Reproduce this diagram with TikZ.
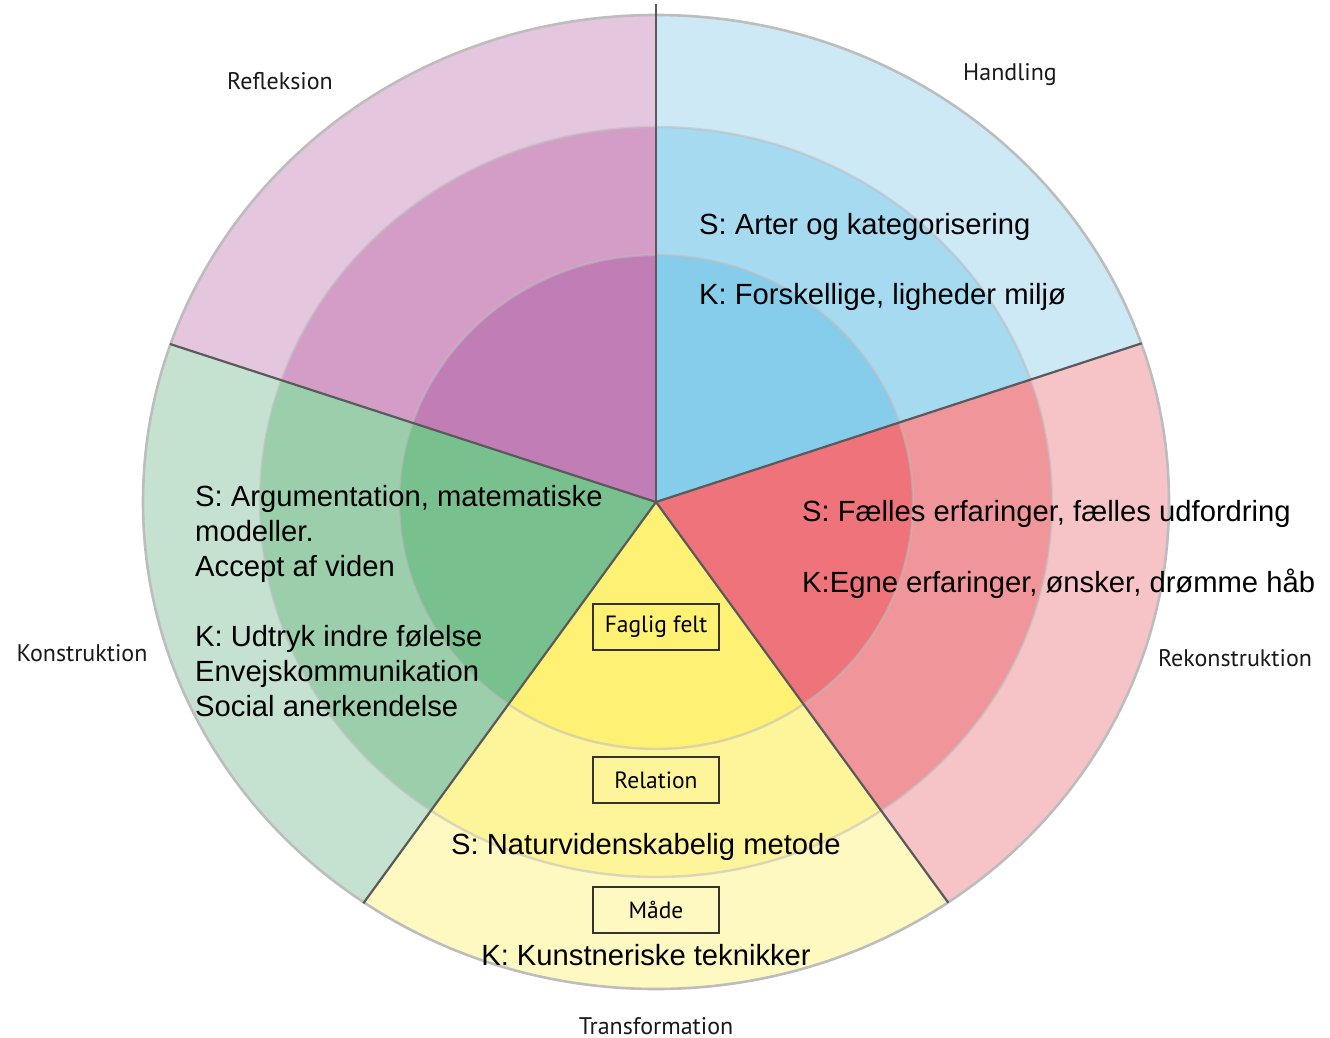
\documentclass[tikz,border=0pt]{standalone}
\usepackage{fontspec}
\setmainfont{Liberation Sans}
\newfontfamily\labelfont{PT Sans}
\usetikzlibrary{calc}

% ring colours: outer / middle / inner
\definecolor{refOut}{HTML}{E4C6DF}\definecolor{refMid}{HTML}{D39DC8}\definecolor{refIn}{HTML}{C17DB6}
\definecolor{hanOut}{HTML}{CDE9F6}\definecolor{hanMid}{HTML}{A5DAF0}\definecolor{hanIn}{HTML}{86CDEC}
\definecolor{rekOut}{HTML}{F6C4C7}\definecolor{rekMid}{HTML}{F09599}\definecolor{rekIn}{HTML}{EE737A}
\definecolor{traOut}{HTML}{FEF8C1}\definecolor{traMid}{HTML}{FEF59B}\definecolor{traIn}{HTML}{FEF173}
\definecolor{konOut}{HTML}{C5E2D1}\definecolor{konMid}{HTML}{9BCFAB}\definecolor{konIn}{HTML}{78C18F}
\definecolor{divider}{HTML}{5A5A5A}
\definecolor{rim}{HTML}{BDBDBD}

% one wedge between two rim points, filled ring by ring
\newcommand\ringwedge[5]{%
  \begin{scope}
    \clip (c) -- ($(c)!3!(#1)$) -- ($(c)!3!(#2)$) -- cycle;
    \fill[#3] (c) ellipse [x radius=513pt, y radius=487pt];
    \fill[#4] (c) ellipse [x radius=396pt, y radius=375pt];
    \fill[#5] (c) ellipse [x radius=257pt, y radius=247pt];
  \end{scope}}

\begin{document}
\begin{tikzpicture}[x=1pt,y=-1pt,
  outerring/.style={draw=rim, line width=2.6pt},
  innerring/.style={draw=rim, draw opacity=0.55, line width=2.4pt},
  spoke/.style={draw=divider, line width=2.2pt},
  maintext/.style={inner sep=0pt, font=\fontsize{29.2}{35}\selectfont, text=black},
  dimlabel/.style={inner sep=0pt, font=\labelfont\fontsize{24}{28}\selectfont, text=black!90},
  tagbox/.style={draw=black!80, line width=1.3pt, minimum width=126pt, minimum height=46pt,
                 inner sep=0pt, font=\labelfont\fontsize{23.5}{27}\selectfont}]
\useasboundingbox (0,0) rectangle (1330,1038);

\coordinate (c) at (656,502);
\coordinate (tip) at (656,4);
\coordinate (eT) at (656,15);
\coordinate (eR) at (1141.7,343.3);
\coordinate (eBR) at (948.3,902.7);
\coordinate (eBL) at (363.3,903.3);
\coordinate (eL) at (170,344);

% wedges
\ringwedge{eT}{eL}{refOut}{refMid}{refIn}
\ringwedge{eR}{eT}{hanOut}{hanMid}{hanIn}
\ringwedge{eBR}{eR}{rekOut}{rekMid}{rekIn}
\ringwedge{eBL}{eBR}{traOut}{traMid}{traIn}
\ringwedge{eL}{eBL}{konOut}{konMid}{konIn}

% ring outlines
\draw[outerring] (c) ellipse [x radius=513pt, y radius=487pt];
\draw[innerring] (c) ellipse [x radius=396pt, y radius=375pt];
\draw[innerring] (c) ellipse [x radius=257pt, y radius=247pt];

% spokes
\draw[spoke] (c) -- (tip);
\draw[spoke] (c) -- (eR);
\draw[spoke] (c) -- (eBR);
\draw[spoke] (c) -- (eBL);
\draw[spoke] (c) -- (eL);

% dimension names
\node[dimlabel, anchor=base] (lRef) at (280,90) {Refleksion};
\node[dimlabel, anchor=base] (lHan) at (1010,81) {Handling};
\node[dimlabel, anchor=base] (lKon) at (82,661) {Konstruktion};
\node[dimlabel, anchor=base] (lRek) at (1235,666) {Rekonstruktion};
\node[dimlabel, anchor=base] (lTra) at (656,1034) {Transformation};

% ring tags
\node[tagbox] (tFag) at (656,627) {Faglig felt};
\node[tagbox] (tRel) at (656,780) {Relation};
\node[tagbox] (tMaa) at (656,910) {Måde};

% sector contents
\node[maintext, anchor=base west] (hS) at (699,234) {S: Arter og kategorisering};
\node[maintext, anchor=base west] (hK) at (699,304) {K: Forskellige, ligheder miljø};
\node[maintext, anchor=base west] (rS) at (802,521) {S: Fælles erfaringer, fælles udfordring};
\node[maintext, anchor=base west] (rK) at (802,592) {K:Egne erfaringer, ønsker, drømme håb};
\node[maintext, anchor=north west, align=left] (kT) at (195,485)
  {S: Argumentation, matematiske\\modeller.\\Accept af viden\\[35pt]K: Udtryk indre følelse\\Envejskommunikation\\Social anerkendelse};
\node[maintext, anchor=base] (tS) at (646,854) {S: Naturvidenskabelig metode};
\node[maintext, anchor=base] (tK) at (646,965) {K: Kunstneriske teknikker};
\end{tikzpicture}
\end{document}
